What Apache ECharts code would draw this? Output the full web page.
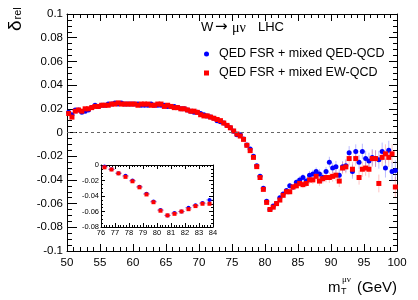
<!DOCTYPE html>
<html><head><meta charset="utf-8">
<script src="https://cdn.jsdelivr.net/npm/echarts@6/dist/echarts.min.js"></script>
<style>html,body{margin:0;padding:0;background:#fff}#c{width:418px;height:300px}</style>
</head><body><div id="c"></div>
<script>
// bin centres (GeV)
const mT = [50.25,50.75,51.25,51.75,52.25,52.75,53.25,53.75,54.25,54.75,55.25,55.75,56.25,56.75,57.25,57.75,58.25,58.75,59.25,59.75,
60.25,60.75,61.25,61.75,62.25,62.75,63.25,63.75,64.25,64.75,65.25,65.75,66.25,66.75,67.25,67.75,68.25,68.75,69.25,69.75,
70.25,70.75,71.25,71.75,72.25,72.75,73.25,73.75,74.25,74.75,75.25,75.75,76.25,76.75,77.25,77.75,78.25,78.75,79.25,79.75,
80.25,80.75,81.25,81.75,82.25,82.75,83.25,83.75,84.25,84.75,85.25,85.75,86.25,86.75,87.25,87.75,88.25,88.75,89.25,89.75,
90.25,90.75,91.25,91.75,92.25,92.75,93.25,93.75,94.25,94.75,95.25,95.75,96.25,96.75,97.25,97.75,98.25,98.75,99.25,99.75];
// QED FSR + mixed QED-QCD (blue)
const qedQcd = [0.017,0.015,0.019,0.019,0.017,0.018,0.019,0.021,0.023,0.022,0.023,0.023,0.024,0.024,0.025,0.024,0.025,0.024,0.024,0.024,
0.024,0.024,0.023,0.023,0.023,0.024,0.023,0.023,0.023,0.023,0.022,0.022,0.022,0.021,0.020,0.020,0.019,0.018,0.017,0.017,
0.016,0.015,0.014,0.013,0.012,0.010,0.009,0.008,0.006,0.004,0.001,-0.002,-0.002,-0.0055,-0.0105,-0.014,-0.020,-0.028,-0.037,-0.047,
-0.058,-0.065,-0.062,-0.060,-0.055,-0.052,-0.049,-0.045,-0.046,-0.042,-0.040,-0.038,-0.041,-0.036,-0.035,-0.033,-0.035,-0.038,-0.033,-0.025,
-0.030,-0.029,-0.036,-0.029,-0.028,-0.017,-0.033,-0.016,-0.025,-0.016,-0.022,-0.024,-0.021,-0.022,-0.023,-0.016,-0.030,-0.015,-0.033,-0.032];
// QED FSR + mixed EW-QCD (red)
const ewQcd = [0.016,0.013,0.018,0.019,0.018,0.020,0.020,0.021,0.022,0.022,0.023,0.023,0.023,0.024,0.024,0.025,0.024,0.024,0.024,0.024,
0.024,0.023,0.024,0.024,0.024,0.023,0.023,0.024,0.024,0.022,0.023,0.022,0.021,0.021,0.020,0.020,0.019,0.018,0.018,0.017,
0.015,0.014,0.014,0.013,0.012,0.011,0.010,0.008,0.006,0.004,0.0013,-0.0013,-0.003,-0.0058,-0.0108,-0.0153,-0.021,-0.0288,-0.038,-0.048,
-0.059,-0.065,-0.063,-0.060,-0.057,-0.053,-0.050,-0.050,-0.046,-0.045,-0.043,-0.044,-0.043,-0.040,-0.040,-0.037,-0.041,-0.039,-0.038,-0.038,
-0.037,-0.036,-0.041,-0.030,-0.029,-0.022,-0.031,-0.022,-0.038,-0.031,-0.030,-0.031,-0.022,-0.022,-0.043,-0.021,-0.018,-0.021,-0.018,-0.046];
// statistical uncertainty per bin
const errs = [0.001,0.001,0.001,0.001,0.001,0.001,0.001,0.001,0.001,0.001,0.001,0.001,0.001,0.001,0.001,0.001,0.001,0.001,0.001,0.001,
0.001,0.001,0.001,0.001,0.001,0.001,0.001,0.001,0.001,0.001,0.001,0.001,0.001,0.001,0.001,0.001,0.001,0.001,0.001,0.001,
0.001,0.001,0.001,0.001,0.001,0.001,0.001,0.001,0.001,0.001,0.001,0.001,0.001,0.001,0.001,0.001,0.001,0.001,0.001,0.001,
0.0015,0.0015,0.0015,0.002,0.002,0.002,0.002,0.0025,0.0025,0.0025,0.003,0.003,0.003,0.0035,0.0035,0.0035,0.004,0.004,0.004,0.0045,
0.0045,0.005,0.005,0.005,0.0055,0.0055,0.006,0.006,0.006,0.0065,0.0065,0.007,0.007,0.007,0.0075,0.0075,0.008,0.008,0.008,0.0085];
const binHalf = 0.25;
const xTicks = {min:50, max:100, step:5};
const yTicks = {min:-0.1, max:0.1, step:0.02};
const insetX = {min:76, max:84, step:1};
const insetY = {min:-0.08, max:0, step:0.02};
const nameBlue = 'QED FSR + mixed QED-QCD';
const nameRed = 'QED FSR + mixed EW-QCD';

const FONT = 'Liberation Sans, Arial, Helvetica, sans-serif';
const pts = (arr, lo, hi) => mT.map((x,i)=>[x, arr[i], errs[i]]).filter(p => p[0] >= lo && p[0] <= hi);
const fmtY = v => String(Math.round(v*1000)/1000);

function errRender(color, withH){
  return function(params, api){
    const x = api.value(0), y = api.value(1), e = api.value(2);
    const a = api.coord([x, y - e]), b = api.coord([x, y + e]);
    const ch = [{type:'line', shape:{x1:a[0], y1:a[1], x2:b[0], y2:b[1]}, style:{stroke:color, lineWidth:1}}];
    if (withH) {
      const c = api.coord([x - binHalf, y]), d = api.coord([x + binHalf, y]);
      ch.push({type:'line', shape:{x1:c[0], y1:c[1], x2:d[0], y2:d[1]}, style:{stroke:color, lineWidth:1}});
    }
    return {type:'group', children: ch};
  };
}

function xAxisDef(g, r, pos, show, fs, tl, ml, split, margin){
  return {gridIndex:g, type:'value', min:r.min, max:r.max, interval:r.step, position:pos,
    axisLine:{show:true, onZero:false, lineStyle:{color:'#000', width:1}},
    axisTick:{show:true, inside:true, length:tl, lineStyle:{color:'#000'}},
    minorTick:{show:true, splitNumber:split, length:ml, lineStyle:{color:'#000'}},
    splitLine:{show:false}, minorSplitLine:{show:false},
    axisLabel:{show:show, color:'#000', fontSize:fs, fontFamily:FONT, margin:margin, showMinLabel:true, showMaxLabel:true, hideOverlap:false}};
}
function yAxisDef(g, r, pos, show, fs, tl, ml, split, margin){
  const a = xAxisDef(g, r, pos, show, fs, tl, ml, split, margin);
  a.axisLabel.formatter = fmtY;
  return a;
}

const chart = echarts.init(document.getElementById('c'), null, {renderer:'canvas'});
chart.setOption({
  animation:false,
  backgroundColor:'#fff',
  grid:[
    {left:67, top:14, width:330, height:237, containLabel:false, outerBoundsMode:'none'},
    {left:101, top:165, width:112, height:62, containLabel:false, outerBoundsMode:'none', show:true, backgroundColor:'#fff', borderWidth:0}
  ],
  xAxis:[
    xAxisDef(0, xTicks, 'bottom', true, 11.5, 7, 4, 5, 6),
    xAxisDef(0, xTicks, 'top', false, 11, 7, 4, 5, 6),
    xAxisDef(1, insetX, 'bottom', true, 7.5, 4, 2, 5, 2),
    xAxisDef(1, insetX, 'top', false, 7, 4, 2, 5, 2)
  ],
  yAxis:[
    yAxisDef(0, yTicks, 'left', true, 11.5, 10, 5, 4, 4),
    yAxisDef(0, yTicks, 'right', false, 11, 8, 4, 4, 4),
    yAxisDef(1, insetY, 'left', true, 7.5, 4, 2, 4, 2),
    yAxisDef(1, insetY, 'right', false, 7, 4, 2, 4, 2)
  ],
  legend:{
    orient:'vertical', left:199, top:42, itemWidth:15, itemHeight:5, itemGap:5,
    symbolKeepAspect:true,
    textStyle:{fontSize:12.5, fontFamily:FONT, color:'#000', lineHeight:14},
    data:[{name:nameBlue, icon:'circle'}, {name:nameRed, icon:'path://M0,0L10,0L10,10L0,10Z'}]
  },
  graphic:[
    {type:'text', left:201, top:21, style:{text:'W', font:'13px '+FONT, fill:'#000'}},
    {type:'text', left:215, top:20, style:{text:'→', font:'15px DejaVu Sans, sans-serif', fill:'#000'}},
    {type:'text', left:232, top:21, style:{text:'μν', font:'14px Liberation Serif, serif', fill:'#000'}},
    {type:'text', left:258, top:21, style:{text:'LHC', font:'13px '+FONT, fill:'#000'}},
    {type:'text', x:16, y:31, rotation:Math.PI/2, style:{text:'{d|δ}{s|rel}', align:'left', verticalAlign:'middle',
      rich:{d:{fontSize:19, fontFamily:FONT, fill:'#000', verticalAlign:'middle'}, s:{fontSize:11, fontFamily:FONT, fill:'#000', verticalAlign:'middle', padding:[3,0,0,1]}}}},
    {type:'text', x:328, y:288, style:{text:'m', font:'15px '+FONT, fill:'#000', align:'left', verticalAlign:'middle'}},
    {type:'text', x:341, y:292, style:{text:'T', font:'9px '+FONT, fill:'#000', align:'left', verticalAlign:'middle'}},
    {type:'text', x:342, y:280, style:{text:'μν', font:'9px Liberation Serif, serif', fill:'#000', align:'left', verticalAlign:'middle'}},
    {type:'text', x:397, y:288, style:{text:'(GeV)', font:'15px '+FONT, fill:'#000', align:'right', verticalAlign:'middle'}}
  ],
  series:[
    {type:'custom', name:'errBlue', xAxisIndex:0, yAxisIndex:0, renderItem:errRender('rgba(60,60,255,0.35)', false), data:pts(qedQcd,50,100), z:2, silent:true},
    {type:'custom', name:'errRed', xAxisIndex:0, yAxisIndex:0, renderItem:errRender('rgba(255,60,60,0.3)', false), data:pts(ewQcd,50,100), z:2, silent:true},
    {type:'scatter', name:nameBlue, xAxisIndex:0, yAxisIndex:0, symbol:'circle', symbolSize:5, itemStyle:{color:'#0000ff', opacity:1}, data:pts(qedQcd,50,100), z:3,
     markLine:{silent:true, symbol:['none','none'], label:{show:false}, lineStyle:{color:'#666', type:[3,3], width:1}, data:[{yAxis:0}]}},
    {type:'scatter', name:nameRed, xAxisIndex:0, yAxisIndex:0, symbol:'rect', symbolSize:5, itemStyle:{color:'#ff0000', opacity:1}, data:pts(ewQcd,50,100), z:4},
    {type:'custom', name:'errBlueIn', xAxisIndex:2, yAxisIndex:2, renderItem:errRender('rgba(60,60,255,0.35)', true), data:pts(qedQcd,76,84), z:5, silent:true},
    {type:'custom', name:'errRedIn', xAxisIndex:2, yAxisIndex:2, renderItem:errRender('rgba(255,60,60,0.3)', true), data:pts(ewQcd,76,84), z:5, silent:true},
    {type:'scatter', name:nameBlue, xAxisIndex:2, yAxisIndex:2, symbol:'circle', symbolSize:4, itemStyle:{color:'#0000ff', opacity:1}, data:pts(qedQcd,76,84), z:6},
    {type:'scatter', name:nameRed, xAxisIndex:2, yAxisIndex:2, symbol:'rect', symbolSize:4, itemStyle:{color:'#ff0000', opacity:1}, data:pts(ewQcd,76,84), z:7}
  ]
});
</script></body></html>
